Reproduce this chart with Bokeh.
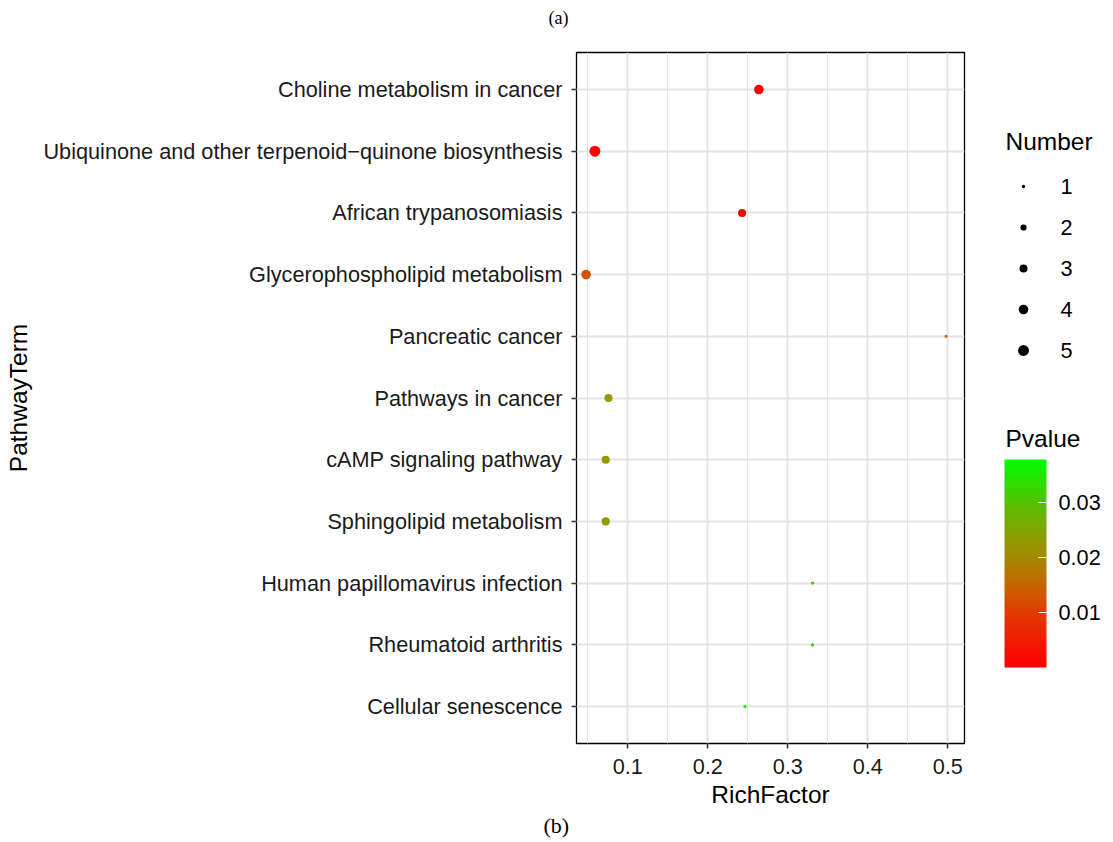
from bokeh.plotting import figure
from bokeh.models import (Range1d, FixedTicker, LinearColorMapper, ColorBar, Title,
                          ColumnDataSource)
from bokeh.layouts import row
from bokeh.core.properties import value
from bokeh.embed import file_html
from bokeh.resources import INLINE

# ---------------- data ----------------
terms = [
    "Choline metabolism in cancer",
    "Ubiquinone and other terpenoid\u2212quinone biosynthesis",
    "African trypanosomiasis",
    "Glycerophospholipid metabolism",
    "Pancreatic cancer",
    "Pathways in cancer",
    "cAMP signaling pathway",
    "Sphingolipid metabolism",
    "Human papillomavirus infection",
    "Rheumatoid arthritis",
    "Cellular senescence",
]
rich_factor = [0.264, 0.059, 0.243, 0.048, 0.498, 0.076, 0.0725, 0.0725, 0.331, 0.331, 0.2466]
number = [4, 5, 3, 4, 1, 3, 3, 3, 1, 1, 1]
pvalue = [0.0002, 0.0001, 0.0002, 0.0125, 0.017, 0.0228, 0.0225, 0.0225, 0.030, 0.030, 0.0377]

x_ticks = [0.1, 0.2, 0.3, 0.4, 0.5]
x_minor = [0.05, 0.15, 0.25, 0.35, 0.45]
number_breaks = [1, 2, 3, 4, 5]
pvalue_breaks = [0.01, 0.02, 0.03]

# ---------------- styles ----------------
FONT = "Liberation Sans"
SERIF = "Liberation Serif"
TICK_SIZE = "21.7px"
TITLE_SIZE = "24.5px"
GRID = "#E3E3E3"

stops = [(0.0, (255, 0, 0)), (0.27, (225, 60, 0)), (0.39, (200, 100, 0)),
         (0.53, (165, 138, 0)), (0.65, (135, 162, 0)), (0.79, (85, 192, 0)),
         (0.9, (40, 225, 0)), (1.0, (0, 255, 0))]


def ramp(n):
    out = []
    for k in range(n):
        t = k / (n - 1)
        for (t0, c0), (t1, c1) in zip(stops[:-1], stops[1:]):
            if t0 <= t <= t1:
                f = (t - t0) / (t1 - t0)
                c = [round(a + (b - a) * f) for a, b in zip(c0, c1)]
                out.append("#%02x%02x%02x" % tuple(c))
                break
    return out


palette = ramp(256)


def dot_size(n):
    return (11.0 + 27.0 * (n - 1)) ** 0.5


n_terms = len(terms)
ypos = [n_terms - i for i in range(n_terms)]
mapper = LinearColorMapper(palette=palette, low=min(pvalue), high=max(pvalue))

src = ColumnDataSource(dict(x=rich_factor, y=ypos, p=pvalue,
                            s=[dot_size(n) for n in number], term=terms))

# ---------------- main plot ----------------
FIG_H = 842
p = figure(width=974, height=FIG_H, x_range=Range1d(0.036, 0.521),
           y_range=Range1d(0.4, n_terms + 0.6),
           output_backend="svg", toolbar_location=None,
           min_border_left=576, min_border_right=10,
           min_border_top=52, min_border_bottom=FIG_H - 743)
p.background_fill_color = "white"
p.border_fill_color = "white"
p.outline_line_color = "black"
p.outline_line_width = 1.3

p.scatter(x="x", y="y", size="s", source=src, line_color=None,
          fill_color={"field": "p", "transform": mapper})

p.xaxis.ticker = FixedTicker(ticks=x_ticks, minor_ticks=x_minor)
p.yaxis.ticker = FixedTicker(ticks=ypos)
p.yaxis.major_label_overrides = {y: t for y, t in zip(ypos, terms)}
p.xaxis.axis_label = "RichFactor"
p.yaxis.axis_label = "PathwayTerm"

for ax in (p.xaxis[0], p.yaxis[0]):
    ax.axis_line_color = None
    ax.major_tick_line_color = "#333333"
    ax.major_tick_line_width = 1.5
    ax.major_tick_out = 5
    ax.major_tick_in = 0
    ax.minor_tick_line_color = None
    ax.major_label_text_font = FONT
    ax.major_label_text_font_size = TICK_SIZE
    ax.major_label_text_color = "#1a1a1a"
    ax.axis_label_text_font = FONT
    ax.axis_label_text_font_size = TITLE_SIZE
    ax.axis_label_text_font_style = "normal"
    ax.axis_label_text_color = "black"
p.xaxis.major_label_standoff = 10
p.yaxis.major_label_standoff = 9
p.xaxis.axis_label_standoff = 4
p.yaxis.axis_label_standoff = 8

p.xgrid.grid_line_color = GRID
p.xgrid.grid_line_width = 2
p.xgrid.minor_grid_line_color = GRID
p.xgrid.minor_grid_line_width = 1
p.ygrid.grid_line_color = GRID
p.ygrid.grid_line_width = 2

# spacer between frame and the "(a)" caption, then the caption itself
p.add_layout(Title(text=" ", text_font_size="1px", standoff=22), "above")
p.add_layout(Title(text="(a)", align="left", offset=-28, text_font=SERIF,
                   text_font_size="18px", text_font_style="normal", text_color="black",
                   standoff=0), "above")
p.add_layout(Title(text="(b)", align="left", offset=-33, text_font=SERIF,
                   text_font_size="22px", text_font_style="normal", text_color="black",
                   standoff=0), "below")

# ---------------- legends ----------------
# legend panel: its frame is aligned with the main frame, so y = -page_y
lg = figure(width=138, height=FIG_H, x_range=Range1d(0, 138), y_range=Range1d(-743, -52),
            output_backend="svg", toolbar_location=None, min_border=0,
            x_axis_location=None, y_axis_location=None)
lg.outline_line_color = None
lg.grid.visible = False
lg.border_fill_color = "white"

leg_top = -186
leg_step = 41
leg_y = [leg_top - i * leg_step for i in range(len(number_breaks))]
lg.text(x=[31], y=[-141], text=["Number"], text_font=value(FONT), text_font_size=TITLE_SIZE,
        text_baseline="middle", text_align="left", text_color="black")
lg.scatter(x=[49] * len(number_breaks), y=leg_y, size=[dot_size(n) for n in number_breaks],
           fill_color="black", line_color=None)
lg.text(x=[86] * len(number_breaks), y=leg_y, text=[str(n) for n in number_breaks],
        text_font=value(FONT), text_font_size=TICK_SIZE, text_baseline="middle",
        text_align="left", text_color="black")
lg.text(x=[31], y=[-438], text=["Pvalue"], text_font=value(FONT), text_font_size=TITLE_SIZE,
        text_baseline="middle", text_align="left", text_color="black")

cb = ColorBar(color_mapper=mapper, ticker=FixedTicker(ticks=pvalue_breaks),
              location=(30, 76), width=42, height=208, padding=0, margin=0,
              title=None,
              major_label_text_font=FONT, major_label_text_font_size=TICK_SIZE,
              major_label_text_color="black", label_standoff=12,
              major_tick_line_color="white", major_tick_in=8, major_tick_out=0,
              minor_tick_line_color=None, bar_line_color=None,
              background_fill_color=None, border_line_color=None)
lg.add_layout(cb, "center")

layout = row(p, lg)
open("out.html", "w").write(file_html(layout, INLINE))
